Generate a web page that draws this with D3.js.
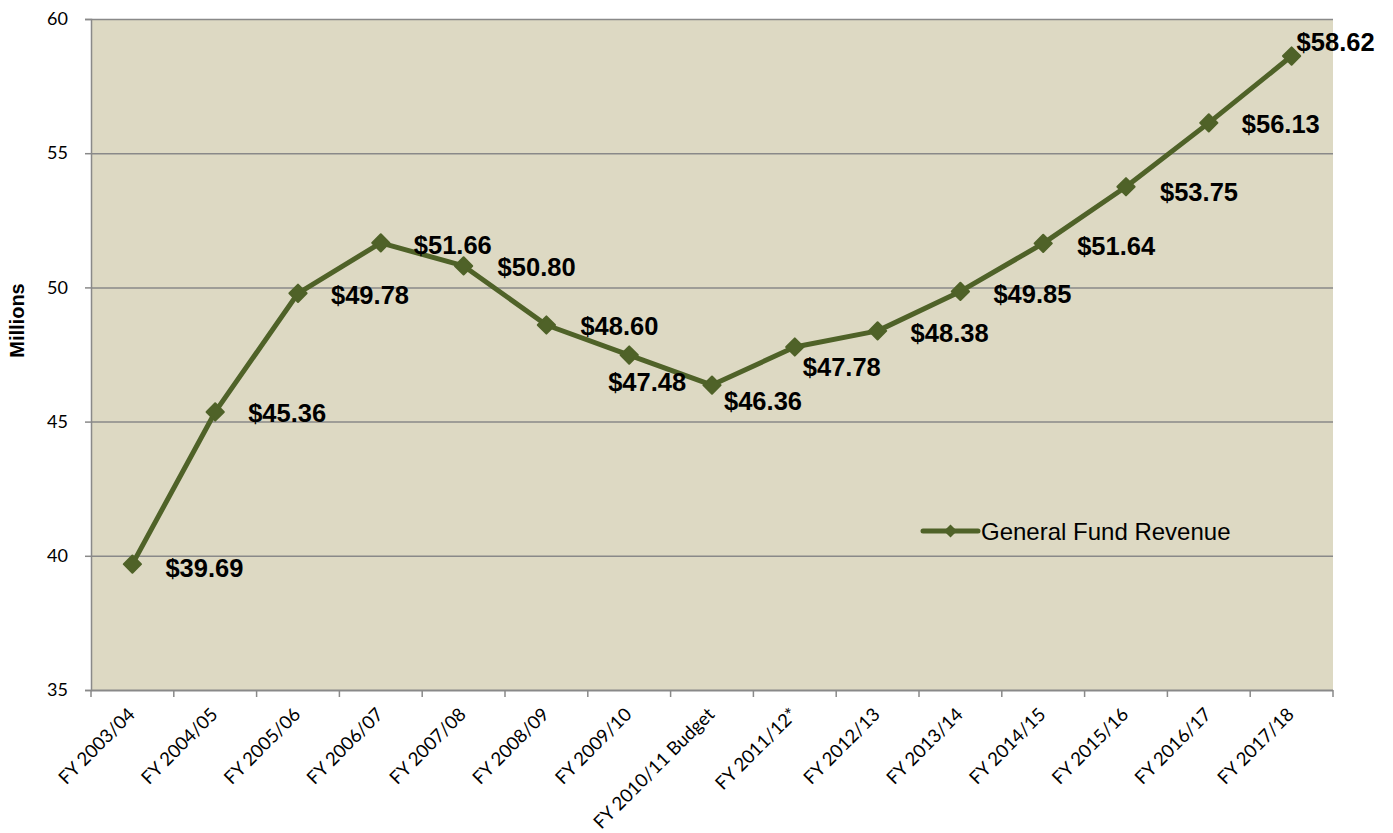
<!DOCTYPE html>
<html>
<head>
<meta charset="utf-8">
<script src="https://cdn.jsdelivr.net/npm/d3@7/dist/d3.min.js"></script>
<style>
  html, body { margin: 0; padding: 0; background: #fff; }
  svg { display: block; }
</style>
</head>
<body>
<svg id="chart" width="1393" height="833"></svg>
<script>
// General Fund revenue by fiscal year (millions of dollars)
const categories = [
  "FY 2003/04", "FY 2004/05", "FY 2005/06", "FY 2006/07", "FY 2007/08",
  "FY 2008/09", "FY 2009/10", "FY 2010/11 Budget", "FY 2011/12*", "FY 2012/13",
  "FY 2013/14", "FY 2014/15", "FY 2015/16", "FY 2016/17", "FY 2017/18"
];
const revenue = [39.69, 45.36, 49.78, 51.66, 50.80, 48.60, 47.48, 46.36, 47.78, 48.38, 49.85, 51.64, 53.75, 56.13, 58.62];
const yTicks = [35, 40, 45, 50, 55, 60];
const seriesName = "General Fund Revenue";

// Data label placement relative to each point (text start, vertical centre)
const labelOffsets = [
  [33, 4], [33, 1], [33, 2], [33, 2], [34, 1], [34, 1], [-21, 27],
  [12, 16], [8, 20], [33, 2], [33, 2], [34, 2], [34, 5], [33, 1], [5, -14]
];

const svg = d3.select("#chart");
const margin = { left: 91, right: 1333, top: 19, bottom: 690 };

const x = d3.scaleBand().domain(categories).range([margin.left, margin.right]);
const y = d3.scaleLinear().domain([35, 60]).range([margin.bottom, margin.top]);

const lineColor = "#4F6228";
const axisColor = "#898989";
const tickFont = "Lato, 'Open Sans', sans-serif";
const labelFont = "'Liberation Sans', Arial, sans-serif";

// Plot background
svg.append("rect")
  .attr("x", margin.left).attr("y", margin.top)
  .attr("width", margin.right - margin.left)
  .attr("height", margin.bottom - margin.top)
  .attr("fill", "#DDD9C3");

// Horizontal gridlines
svg.append("g").selectAll("line")
  .data(yTicks.filter(d => d !== 35))
  .join("line")
  .attr("x1", margin.left).attr("x2", margin.right)
  .attr("y1", d => y(d) + 0.5).attr("y2", d => y(d) + 0.5)
  .attr("stroke", axisColor).attr("stroke-width", 1.5);

// Y axis
const yAxis = svg.append("g")
  .attr("transform", `translate(${margin.left},0)`)
  .call(d3.axisLeft(y).tickValues(yTicks).tickSize(6).tickPadding(8));
yAxis.attr("font-size", null).attr("font-family", null);
yAxis.select(".domain").attr("stroke", axisColor).attr("stroke-width", 1.5);
yAxis.selectAll(".tick line").attr("stroke", axisColor).attr("stroke-width", 1.5);
yAxis.selectAll(".tick text")
  .style("font-family", tickFont)
  .style("font-size", "18px")
  .attr("fill", "#000").attr("dx", -9);

// X axis with ticks on category boundaries
const xAxisG = svg.append("g").attr("transform", `translate(0,${margin.bottom})`);
xAxisG.append("line")
  .attr("x1", margin.left).attr("x2", margin.right)
  .attr("y1", 0.5).attr("y2", 0.5)
  .attr("stroke", axisColor).attr("stroke-width", 2);
const boundaries = categories.map(c => x(c)).concat([margin.right]);
xAxisG.selectAll("line.tk")
  .data(boundaries)
  .join("line").attr("class", "tk")
  .attr("x1", d => d).attr("x2", d => d)
  .attr("y1", 0).attr("y2", 7)
  .attr("stroke", axisColor).attr("stroke-width", 1.5);
xAxisG.selectAll("text")
  .data(categories)
  .join("text")
  .attr("transform", d => `translate(${x(d) + x.bandwidth() / 2 - 1},${21}) rotate(-45)`)
  .attr("text-anchor", "end")
  .attr("dy", "0.35em")
  .style("font-family", tickFont)
  .style("font-size", "18.5px")
  .attr("fill", "#000")
  .text(d => d);

// Y axis title
svg.append("text")
  .attr("transform", `translate(24,${(margin.top + margin.bottom) / 2 - 34}) rotate(-90)`)
  .attr("text-anchor", "middle")
  .style("font-family", labelFont)
  .style("font-weight", "bold")
  .style("font-size", "20px")
  .text("Millions");

// Revenue line
const points = categories.map((c, i) => ({ cat: c, value: revenue[i], i }));
const cx = d => x(d.cat) + x.bandwidth() / 2;

svg.append("path")
  .datum(points)
  .attr("fill", "none")
  .attr("stroke", lineColor)
  .attr("stroke-width", 5)
  .attr("stroke-linejoin", "round")
  .attr("d", d3.line().x(cx).y(d => y(d.value)));

// Diamond markers
const diamond = d3.symbol().type(d3.symbolDiamond2).size(190);
svg.append("g").selectAll("path")
  .data(points)
  .join("path")
  .attr("transform", d => `translate(${cx(d)},${y(d.value)})`)
  .attr("d", diamond)
  .attr("fill", lineColor)
  .attr("stroke", lineColor)
  .attr("stroke-width", 2)
  .attr("stroke-linejoin", "round");

// Value labels
svg.append("g").selectAll("text")
  .data(points)
  .join("text")
  .attr("x", d => cx(d) + labelOffsets[d.i][0])
  .attr("y", d => y(d.value) + labelOffsets[d.i][1])
  .attr("dy", "0.36em")
  .style("font-family", labelFont)
  .style("font-weight", "bold")
  .style("font-size", "25.5px")
  .attr("fill", "#000")
  .text(d => "$" + d.value.toFixed(2));

// Legend
const legend = svg.append("g").attr("transform", "translate(923,531)");
legend.append("line")
  .attr("x1", 0).attr("x2", 55).attr("y1", 0).attr("y2", 0)
  .attr("stroke", lineColor).attr("stroke-width", 5).attr("stroke-linecap", "round");
legend.append("path")
  .attr("transform", "translate(27.5,0)")
  .attr("d", d3.symbol().type(d3.symbolDiamond2).size(110))
  .attr("fill", lineColor);
legend.append("text")
  .attr("x", 58).attr("y", 0).attr("dy", "0.36em")
  .style("font-family", labelFont)
  .style("font-size", "24px")
  .attr("fill", "#000")
  .text(seriesName);
</script>
</body>
</html>
